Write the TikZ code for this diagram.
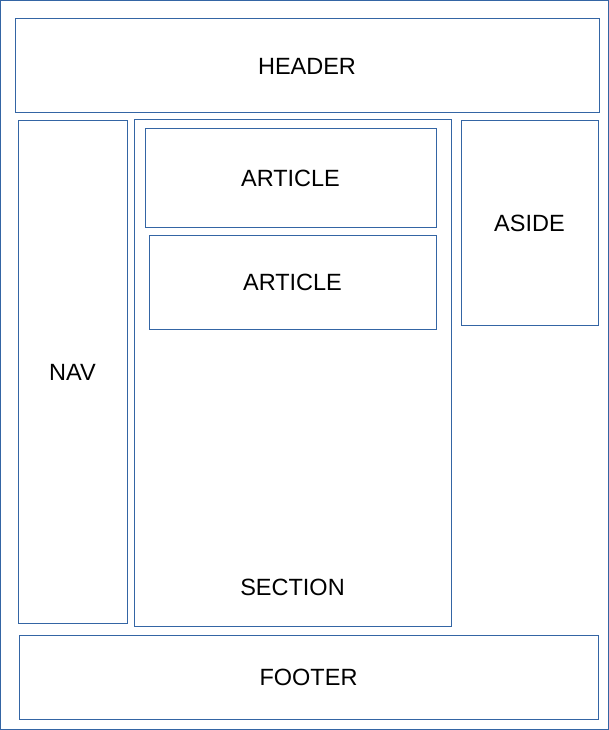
\documentclass[tikz,border=0pt]{standalone}
\usepackage{fontspec}
\setmainfont{Liberation Sans}
\usepackage{tikz}
\usetikzlibrary{positioning}
\definecolor{frameblue}{RGB}{52, 101, 164}

\begin{document}
\begin{tikzpicture}[
    x=1pt, y=-1pt,
    region/.style={draw=frameblue, line width=1pt, inner sep=0pt, align=center, font=\fontsize{23.5}{28}\selectfont},
    tag/.style={inner sep=0pt, font=\fontsize{23.5}{28}\selectfont}
]
\useasboundingbox (0,0) rectangle (609,730);
\node[region, minimum width=608pt, minimum height=729pt] (page) at (304.5,365) {};

\node[region, minimum width=584pt, minimum height=94pt] (header) at (307,66) {HEADER};
\node[region, minimum width=109pt, minimum height=502pt] (nav) at (72.5,372) {NAV};
\node[region, minimum width=317pt, minimum height=506pt] (section) at (292.5,373) {};
\node[region, minimum width=291pt, minimum height=98pt] (article1) at (290.5,178) {ARTICLE};
\node[region, minimum width=287pt, minimum height=94pt] (article2) at (292.5,282) {ARTICLE};
\node[region, minimum width=137pt, minimum height=204pt] (aside) at (529.5,223) {ASIDE};
\node[region, minimum width=579pt, minimum height=84pt] (footer) at (308.5,677) {FOOTER};

\node[tag] (sectiontag) at (292.5,587) {SECTION};
\end{tikzpicture}
\end{document}
